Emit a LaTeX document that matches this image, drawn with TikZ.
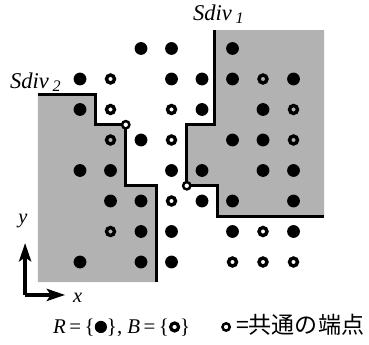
\documentclass[tikz,border=0pt]{standalone}
\usepackage{fontspec}
\setmainfont{Liberation Serif}
\newfontfamily\jpfont{Noto Sans CJK JP}
\usetikzlibrary{arrows.meta}

\newcommand{\rsym}{\tikz[baseline={(0,-0.23)}]\fill (0,0) circle (0.2);}
\newcommand{\bsym}{\tikz[baseline={(0,-0.23)}]\draw[line width=3pt] (0,0) circle (0.13);}

\tikzset{
  rdot/.style={fill=black},
  bdot/.style={draw=black, line width=3.2pt},
  joint/.style={draw=black, fill=white, line width=2.3pt},
  divline/.style={line width=3pt},
  tint/.style={fill=black!30},
  axisarrow/.style={line width=3pt, -{Stealth[length=6mm, width=4mm, inset=1.3mm]}},
  lbl/.style={font=\fontsize{21}{24}\selectfont\itshape}
}

\begin{document}
\begin{tikzpicture}[line join=miter, line cap=butt]
\useasboundingbox (-2.623,-2.689) rectangle (9.475,8.590);
\coordinate (J1) at (1.5,4.5);
\coordinate (J2) at (3.5,2.5);
\coordinate (O) at (-1.8,-1.08);
\coordinate (Ytip) at (-1.8,0.62);
\coordinate (Xtip) at (-0.49,-1.08);
\fill[tint] (-1.38,5.5) -- (0.5,5.5) -- (0.5,4.5) -- (J1) -- (1.5,2.5) -- (2.5,2.5) -- (2.5,-0.66) -- (-1.38,-0.66) -- cycle;
\fill[tint] (4.4,7.6) -- (8,7.6) -- (8,1.5) -- (4.5,1.5) -- (4.5,2.5) -- (J2) -- (3.5,4.5) -- (4.4,4.5) -- cycle;
\draw[divline] (-1.38,5.5) -- (0.5,5.5) -- (0.5,4.5) -- (J1) -- (1.5,2.5) -- (2.5,2.5) -- (2.5,-0.66);
\draw[divline] (4.4,7.6) -- (4.4,4.5) -- (3.5,4.5) -- (J2) -- (4.5,2.5) -- (4.5,1.5) -- (8,1.5);
\foreach \c/\r in {2/7,3/7,5/7, 0/6,3/6,4/6,5/6,7/6, 0/5,4/5,6/5, 2/4,5/4,6/4,
  0/3,1/3,3/3,4/3,6/3,7/3, 1/2,2/2,4/2,5/2,7/2, 2/1,3/1,5/1,7/1, 0/0,2/0,3/0}
  \fill[rdot] (\c,\r) circle (0.21);
\foreach \c/\r in {1/6,6/6, 1/5,3/5,7/5, 1/4,3/4,7/4, 3/2, 1/1,6/1, 5/0,6/0,7/0}
  \draw[bdot] (\c,\r) circle (0.13);
\draw[joint] (J1) circle (0.12);
\draw[joint] (J2) circle (0.12);
\node[lbl, anchor=base west, inner sep=0pt] (sdiv1) at (3.7,7.93) {Sdiv\,\raisebox{-0.35ex}{\fontsize{15}{17}\selectfont 1}};
\node[lbl, anchor=base west, inner sep=0pt] (sdiv2) at (-2.3,5.7) {Sdiv\,\raisebox{-0.35ex}{\fontsize{15}{17}\selectfont 2}};
\draw[axisarrow] (O) -- (Ytip);
\draw[axisarrow] (O) -- (Xtip);
\node[lbl, font=\fontsize{19}{22}\selectfont\itshape] (ylbl) at (-1.87,1.35) {y};
\node[lbl, font=\fontsize{19}{22}\selectfont\itshape] (xlbl) at (-0.08,-1.18) {x};
\node[anchor=base west, inner sep=0pt, font=\fontsize{19.5}{22}\selectfont] (legend) at (-0.885,-2.36) {\textit{R}\,=\,\{\rsym\},\ \textit{B}\,=\,\{\bsym\}};
\draw[joint] (4.79,-2.13) circle (0.12);
\node[anchor=base west, inner sep=0pt, font=\fontsize{21.5}{25}\jpfont] (jlegend) at (5.11,-2.36) {=共通の端点};
\end{tikzpicture}
\end{document}
